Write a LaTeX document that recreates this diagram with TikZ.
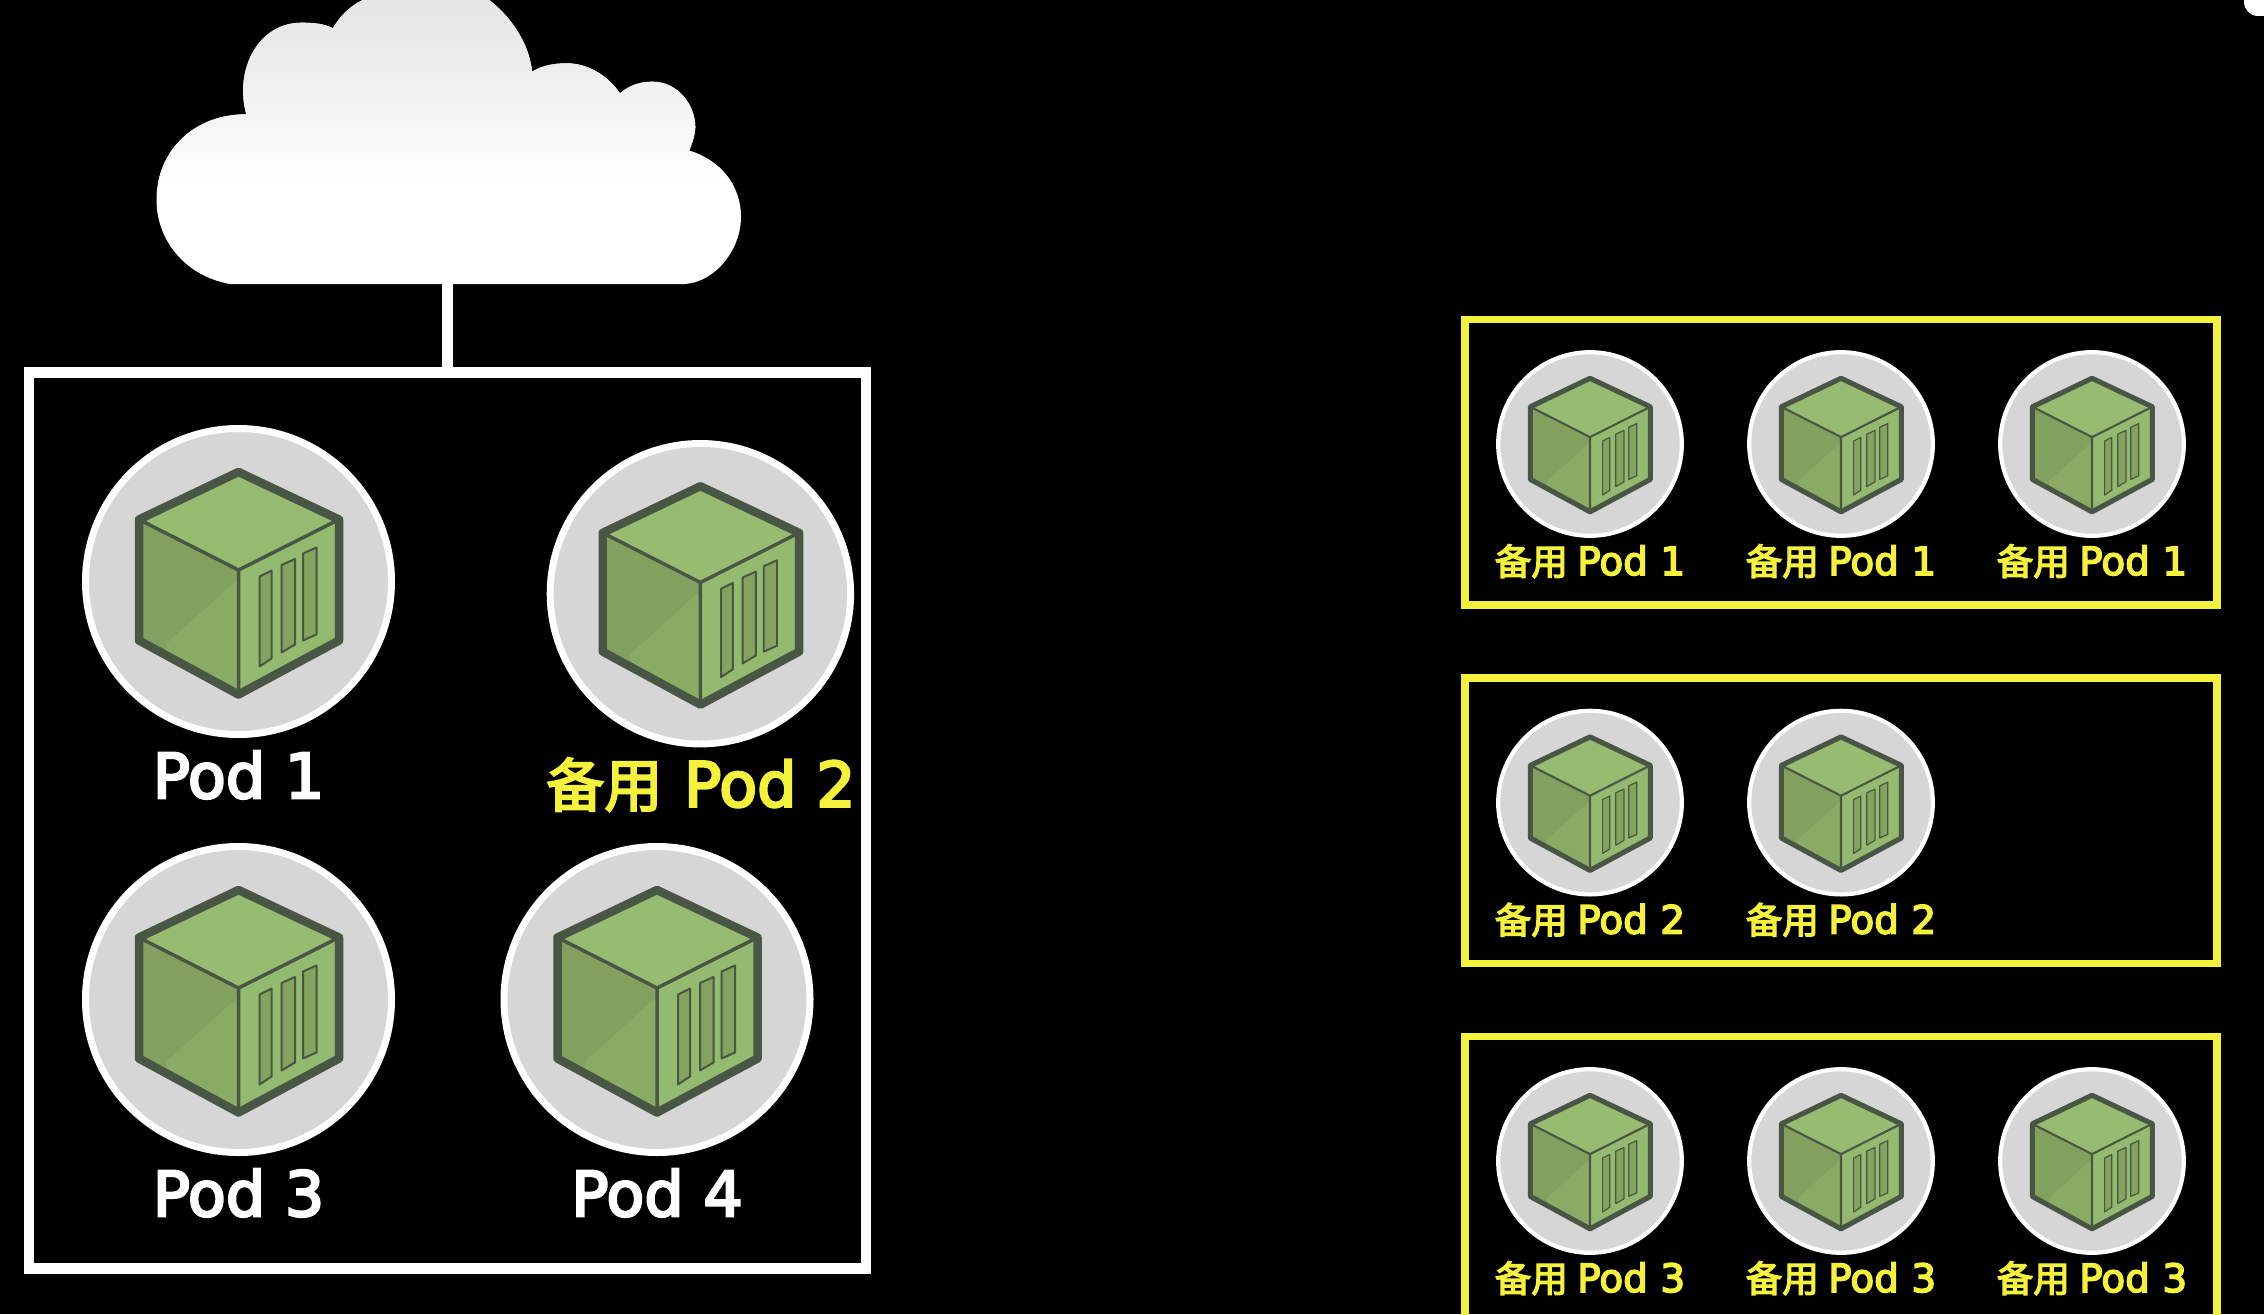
\documentclass[tikz,border=0pt]{standalone}
\usepackage{fontspec}
\setmainfont[FakeBold=4]{DejaVu Sans}
\newfontfamily\cjkfont[FakeBold=3.5,Scale=0.935]{Noto Sans CJK SC}
\definecolor{disc}{HTML}{D6D6D6}
\definecolor{cubeline}{HTML}{4A5645}
\definecolor{cubetop}{HTML}{97BC71}
\definecolor{cubeleft}{HTML}{84A05E}
\definecolor{cubeleftb}{HTML}{8BAB65}
\definecolor{cuberight}{HTML}{94BA6F}
\definecolor{cubewin}{HTML}{84A35F}
\definecolor{podyellow}{HTML}{F5F23C}
\definecolor{cloudtop}{HTML}{E4E4E4}
\tikzset{
  mainbox/.style={draw=white,line width=10.5pt,inner sep=0pt,rectangle},
  sparebox/.style={draw=podyellow,line width=7.5pt,inner sep=0pt,rectangle},
  bigtext/.style={anchor=base,inner sep=0pt,font=\fontsize{62}{62}\selectfont},
  smalltext/.style={anchor=base,inner sep=0pt,text=podyellow,font=\fontsize{39}{39}\selectfont},
}
\newcommand{\spare}{{\cjkfont 备用}}
% #1 name, #2 x, #3 y, #4 scale
\newcommand{\PodIcon}[4]{%
  \node[circle,draw=white,fill=disc,inner sep=0pt,line width={7pt*#4},minimum size={(313pt-7pt)*#4}] (#1) at (#2,#3) {};
  \begin{scope}[shift={(#2,#3)},scale=#4,line join=round]
    \fill[cubetop] (0,-109.5) -- (-99.5,-62) -- (0,-11.5) -- (100.5,-62) -- cycle;
    \fill[cubeleft] (-99.5,-62) -- (0,-11.5) -- (0,113) -- (-99.5,59) -- cycle;
    \fill[cubeleftb] (-1,-2) -- (-72,62) -- (-72,74) -- (-1,113) -- cycle;
    \fill[cuberight] (0,-11.5) -- (100.5,-62) -- (100.5,59) -- (0,113) -- cycle;
    \draw[cubeline,line width={3.5pt*#4}] (-99.5,-62) -- (0,-11.5) -- (100.5,-62) (0,-11.5) -- (0,113);
    \draw[cubeline,line width={2pt*#4},fill=cubewin] (21,-5) -- (33,-11) -- (33,77) -- (21,85) -- cycle;
    \draw[cubeline,line width={2pt*#4},fill=cubewin] (43,-16.5) -- (56.5,-22.5) -- (56.5,63) -- (43,71) -- cycle;
    \draw[cubeline,line width={2pt*#4},fill=cubewin] (64.5,-28) -- (78,-34) -- (78,53) -- (64.5,59) -- cycle;
    \draw[cubeline,line width={8.5pt*#4}] (0,-109.5) -- (-99.5,-62) -- (-99.5,59) -- (0,113) -- (100.5,59) -- (100.5,-62) -- cycle;
  \end{scope}
}
\begin{document}
\begin{tikzpicture}[x=1pt,y=-1pt]
\useasboundingbox (0,0) rectangle (2264,1314);
\fill[black] (0,0) rectangle (2264,1314);
\clip (0,0) rectangle (2264,1314);
% corner
\fill[white,rounded corners=14pt] (2244,-30) -- (2244,16) -- (2290,16) -- (2290,-30) -- cycle;
% cloud
\begin{scope}
  \clip (230,284) .. controls (185,276) and (156.5,240) .. (156.5,200)
    .. controls (156.5,150) and (195,114) .. (246.3,114.3)
    .. controls (234,70) and (258,22.7) .. (301.4,22.7)
    .. controls (315,22.7) and (325,24) .. (332.9,28.3)
    .. controls (340,16) and (350,6) .. (362.7,0) -- (489.2,0)
    .. controls (515,20) and (530,48) .. (532,71.7)
    .. controls (543,65) and (555,63.3) .. (566.7,63.3)
    .. controls (590,63.3) and (610,78) .. (619.8,93.3)
    .. controls (630,85) and (640,81.7) .. (652.4,81.7)
    .. controls (678,81.7) and (695.3,105) .. (695.3,127)
    .. controls (695.3,135) and (692,143) .. (689.2,150.7)
    .. controls (720,160) and (741,185) .. (741,216.7)
    .. controls (741,250) and (715,282) .. (685,284) -- cycle;
  \fill[white] (100,0) rectangle (800,300);
  \shade[top color=cloudtop,bottom color=white] (100,0) rectangle (800,183);
\end{scope}
\coordinate (cloudbase) at (447.5,283);
% main box
\node[mainbox,minimum width=837pt,minimum height=895.8pt] (mainframe) at (447.5,820.6) {};
\draw[white,line width=11pt] (cloudbase) -- (mainframe.north);
% spare boxes
\node[sparebox,minimum width=752pt,minimum height=285.5pt] (spareA) at (1841,462.2) {};
\node[sparebox,minimum width=752pt,minimum height=285.5pt] (spareB) at (1841,820.8) {};
\node[sparebox,minimum width=752pt,minimum height=285.5pt] (spareC) at (1841,1179.4) {};
% big pods
\PodIcon{podA}{238.5}{581.5}{1}
\PodIcon{podB}{700.4}{593.7}{0.982}
\PodIcon{podC}{238.5}{999.5}{1}
\PodIcon{podD}{657}{999.5}{1}
\node[bigtext,text=white] (labA) at (238.5,798) {Pod 1};
\node[bigtext,text=podyellow] (labB) at (701,806.6) {\spare\kern2pt{} Pod 2};
\node[bigtext,text=white] (labC) at (238.5,1216) {Pod 3};
\node[bigtext,text=white] (labD) at (657,1216) {Pod 4};
% small pods
\PodIcon{a1}{1590}{444}{0.6}
\PodIcon{a2}{1841}{444}{0.6}
\PodIcon{a3}{2092}{444}{0.6}
\PodIcon{b1}{1590}{802.6}{0.6}
\PodIcon{b2}{1841}{802.6}{0.6}
\PodIcon{c1}{1590}{1161}{0.6}
\PodIcon{c2}{1841}{1161}{0.6}
\PodIcon{c3}{2092}{1161}{0.6}
\node[smalltext] (la1) at (1590,575) {\spare\kern-3pt{} Pod 1};
\node[smalltext] (la2) at (1841,575) {\spare\kern-3pt{} Pod 1};
\node[smalltext] (la3) at (2092,575) {\spare\kern-3pt{} Pod 1};
\node[smalltext] (lb1) at (1590,933.6) {\spare\kern-3pt{} Pod 2};
\node[smalltext] (lb2) at (1841,933.6) {\spare\kern-3pt{} Pod 2};
\node[smalltext] (lc1) at (1590,1292) {\spare\kern-3pt{} Pod 3};
\node[smalltext] (lc2) at (1841,1292) {\spare\kern-3pt{} Pod 3};
\node[smalltext] (lc3) at (2092,1292) {\spare\kern-3pt{} Pod 3};
\end{tikzpicture}
\end{document}
